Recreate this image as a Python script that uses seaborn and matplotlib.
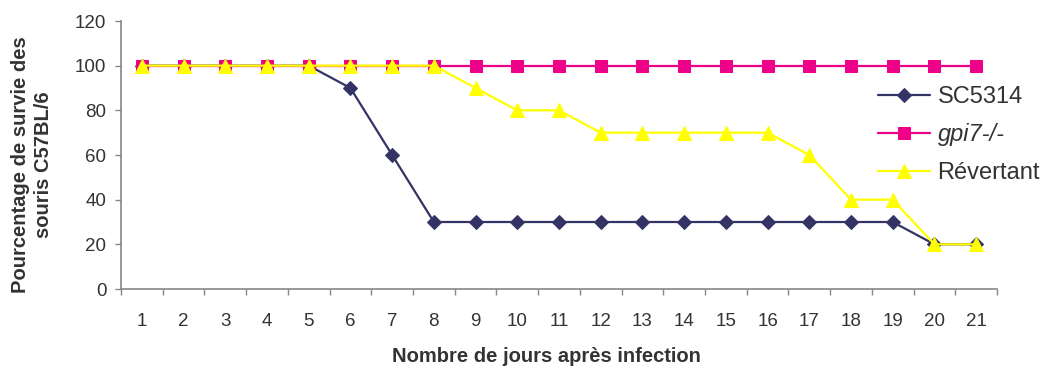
import pandas as pd
import seaborn as sns
import matplotlib.pyplot as plt
from matplotlib.ticker import FixedLocator

# data
days = list(range(1, 22))
sc5314 = [100, 100, 100, 100, 100, 90, 60, 30, 30, 30, 30, 30, 30, 30, 30, 30, 30, 30, 30, 20, 20]
gpi7 = [100] * 21
revertant = [100, 100, 100, 100, 100, 100, 100, 100, 90, 80, 80, 70, 70, 70, 70, 70, 60, 40, 40, 20, 20]
series_names = ['SC5314', 'gpi7-/-', 'Révertant']

df = pd.DataFrame({
    'jour': days * 3,
    'survie': sc5314 + gpi7 + revertant,
    'souche': [series_names[0]] * 21 + [series_names[1]] * 21 + [series_names[2]] * 21,
})

sns.set_style('white')
plt.rcParams['font.family'] = ['Liberation Sans', 'DejaVu Sans']
text_col = '#333333'
axis_col = '#868686'

palette = {'SC5314': '#333366', 'gpi7-/-': '#EE0088', 'Révertant': '#FFFF00'}
markers = {'SC5314': 'D', 'gpi7-/-': 's', 'Révertant': '^'}

fig = plt.figure(figsize=(10.47, 3.69), dpi=100)
ax = fig.add_axes([121 / 1047, 1 - 289 / 369, (997 - 121) / 1047, (289 - 21) / 369])

for name in series_names:
    sub = df[df['souche'] == name]
    ms = {'D': 6.8, 's': 8, '^': 10.5}[markers[name]]
    sns.lineplot(data=sub, x='jour', y='survie', ax=ax, color=palette[name],
                 marker=markers[name], markersize=ms, markeredgecolor=palette[name],
                 linewidth=1.6, label=name)

ax.set_xlim(0.5, 21.5)
ax.set_ylim(0, 120)
ax.set_yticks(range(0, 121, 20))
ax.set_xticks(days)
ax.xaxis.set_minor_locator(FixedLocator([d + 0.5 for d in range(0, 22)]))
ax.tick_params(axis='x', which='major', length=0, pad=17, labelsize=13.5, labelcolor=text_col)
ax.tick_params(axis='x', which='minor', length=4.5, width=1, color=axis_col, direction='out', bottom=True)
ax.tick_params(axis='y', length=4.5, width=1, color=axis_col, direction='out', left=True,
               pad=6, labelsize=13.5, labelcolor=text_col)
for side in ['top', 'right']:
    ax.spines[side].set_visible(False)
for side in ['left', 'bottom']:
    ax.spines[side].set_color(axis_col)
    ax.spines[side].set_linewidth(1.2)
ax.set_xlabel('')
ax.set_ylabel('')

fig.text(32 / 1047, 1 - 165 / 369, 'Pourcentage de survie des\nsouris C57BL/6', rotation=90,
         ha='center', va='center', multialignment='center', fontsize=14.5,
         fontweight='bold', color=text_col, linespacing=1.3)
fig.text(546 / 1047, 1 - 356 / 369, 'Nombre de jours après infection', ha='center', va='center',
         fontsize=14.5, fontweight='bold', color=text_col)

leg = ax.legend(loc='center left', bbox_to_anchor=(869 / 1047, 1 - 135 / 369),
                bbox_transform=fig.transFigure, frameon=False, fontsize=17,
                handlelength=2.2, handletextpad=0.3, labelspacing=0.65, borderaxespad=0)
for t in leg.get_texts():
    t.set_color(text_col)
leg.get_texts()[1].set_fontstyle('italic')

fig.savefig('out.png', dpi=100)
